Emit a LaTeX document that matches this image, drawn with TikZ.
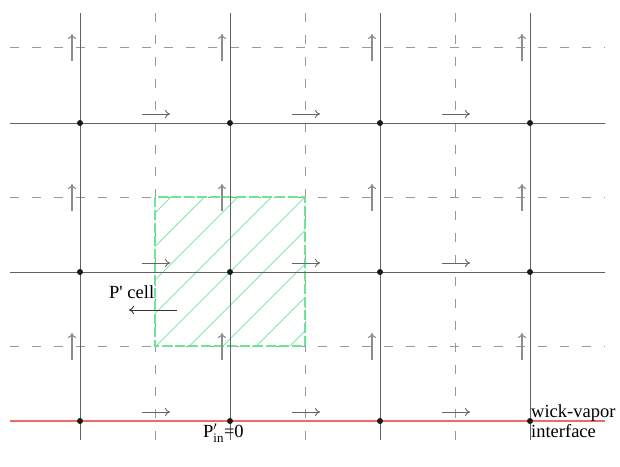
\documentclass[tikz,border=0pt]{standalone}
\usepackage{fontspec}
\setmainfont{Liberation Serif}
\usepackage{amsmath}
\usetikzlibrary{arrows.meta}
\definecolor{cellgreen}{RGB}{110,228,150}
\definecolor{hatchgreen}{RGB}{130,235,165}
\definecolor{wallred}{RGB}{240,105,105}
\begin{document}
\begin{tikzpicture}[x=1pt,y=-1pt,
  solidline/.style={draw=black!62,line width=0.9pt},
  dashline/.style={draw=black!40,line width=1pt,dash pattern=on 8.5pt off 13.5pt},
  redline/.style={draw=wallred,line width=1.1pt},
  upflux/.style={draw=black!45,line width=1.1pt,-{To[length=5pt,width=8pt]}},
  rightflux/.style={draw=black!60,line width=0.9pt,-{To[length=5pt,width=8pt]}},
  leftflux/.style={draw=black!80,line width=0.9pt,-{To[length=5pt,width=8pt]}},
  gridnode/.style={circle,fill=black!90,inner sep=0pt,minimum size=6pt},
  hatchline/.style={draw=hatchgreen,line width=0.9pt},
  cellborder/.style={draw=cellgreen,line width=1.3pt,dash pattern=on 10pt off 3pt},
  lbl/.style={font=\fontsize{18.5}{20}\selectfont,inner sep=0pt}]
\useasboundingbox (0,0) rectangle (620,466);
% dashed grid lines
\foreach \x in {155,305,455} \draw[dashline] (\x,13) -- (\x,440);
\foreach \y in {47,197,346} \draw[dashline] (10,\y) -- (605,\y);
% P' cell hatching
\begin{scope}
  \clip (155,197) rectangle (305,346);
  \foreach \c in {0,...,8}
    \draw[hatchline] ({368+33.5*\c-346},346) -- ++(250,-250);
\end{scope}
\draw[cellborder] (155,197) rectangle (305,346);
% solid grid lines
\foreach \x in {80,230,380,530} \draw[solidline] (\x,13) -- (\x,440);
\foreach \y in {123,272} \draw[solidline] (10,\y) -- (605,\y);
\draw[redline] (10,421) -- (605,421);
% nodes
\foreach \x in {80,230,380,530}
  \foreach \y in {123,272,421}
    \node[gridnode] (n-\x-\y) at (\x,\y) {};
% velocity arrows
\foreach \x in {72,222,372,522}
  \foreach \y in {47,197,346} {
    \coordinate (ua-\x-\y) at (\x,\y+14);
    \coordinate (ub-\x-\y) at (\x,\y-13);
    \draw[upflux] (ua-\x-\y) -- (ub-\x-\y);
  }
\foreach \x in {142,292,442}
  \foreach \y in {114,263,412} {
    \coordinate (ra-\x-\y) at (\x,\y);
    \coordinate (rb-\x-\y) at (\x+28,\y);
    \draw[rightflux] (ra-\x-\y) -- (rb-\x-\y);
  }
% labels
\node[lbl,anchor=base west] (pcell) at (109,298) {P\textquotesingle{} cell};
\coordinate (la) at (177,310);
\coordinate (lb) at (129,310);
\draw[leftflux] (la) -- (lb);
\node[lbl,anchor=base west] (pin) at (203,437) {P$'_{\textrm{in}}$=0};
\node[lbl,anchor=base west] (wv1) at (531,417) {wick-vapor};
\node[lbl,anchor=base west] (wv2) at (531,437) {interface};
\end{tikzpicture}
\end{document}
